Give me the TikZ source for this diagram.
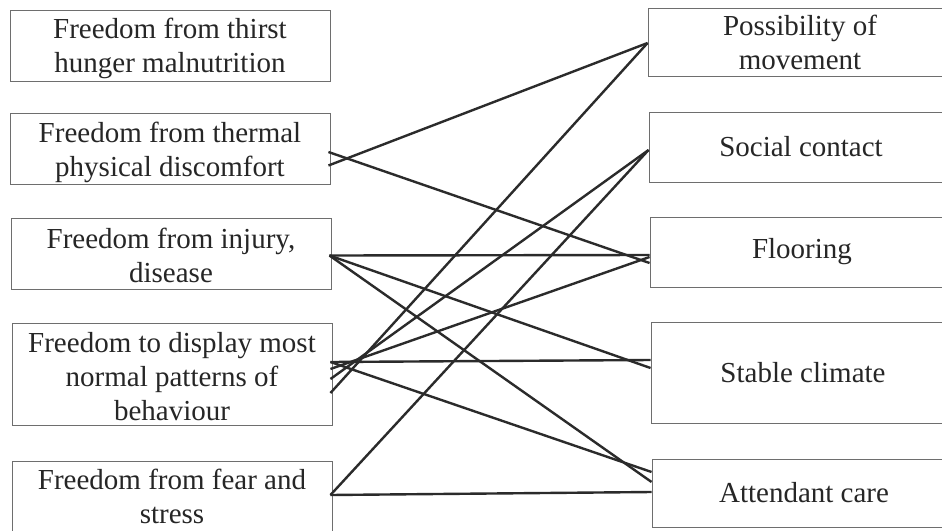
\documentclass[tikz,border=0pt]{standalone}
\usepackage{fontspec}
\setmainfont{Liberation Serif}
\usetikzlibrary{calc}
\definecolor{linec}{HTML}{2B2B2B}
\definecolor{boxc}{HTML}{6E6E6E}
\begin{document}
\begin{tikzpicture}[x=1pt,y=-1pt,
  box/.style={draw=boxc, line width=0.9pt, inner sep=0pt, align=center,
    font=\fontsize{29}{34}\selectfont, text=black!85},
  lbox/.style={box, minimum width=320pt},
  rbox/.style={box, minimum width=304pt},
  link/.style={draw=linec, line width=2.4pt}]
\useasboundingbox (0,0) rectangle (942,530);
\fill[white] (0,0) rectangle (942,530);
% left column
\node[lbox, minimum height=71pt, text depth=0pt] (L1) at (170,45.5) {Freedom from thirst\\hunger malnutrition};
\node[lbox, minimum height=71pt, text depth=0pt, text height=55pt] (L2) at (170,148.5) {Freedom from thermal\\physical discomfort};
\node[lbox, minimum height=71pt, text height=57.8pt] (L3) at (171,253.5) {Freedom from injury,\\disease};
\node[lbox, minimum height=102pt, text height=93.8pt] (L4) at (172,374) {Freedom to display most\\normal patterns of\\behaviour};
\node[lbox, minimum height=71pt] (L5) at (172,496.5) {Freedom from fear and\\stress};
% right column
\node[rbox, minimum height=68pt] (R1) at (800,42) {Possibility of\\movement};
\node[rbox, minimum height=70pt] (R2) at (801,147) {Social contact};
\node[rbox, minimum height=70pt] (R3) at (802,252) {Flooring};
\node[rbox, minimum height=101pt] (R4) at (803,372.5) {Stable climate};
\node[rbox, minimum height=68pt] (R5) at (804,493) {Attendant care};
% connectors
\draw[link] ($(L2.east)+(-2,3.5)$) -- ($(R3.west)+(0,11)$);
\draw[link] ($(L2.east)+(-2,17)$) -- ($(R1.west)+(0,1)$);
\draw[link] ($(L3.east)+(-2,2)$) -- ($(R3.west)+(0,3)$);
\draw[link] ($(L3.east)+(-2,2)$) -- ($(R4.west)+(0,-4.5)$);
\draw[link] ($(L3.east)+(-2,2)$) -- ($(R5.west)+(0,-11)$);
\draw[link] ($(L4.east)+(-2,-12)$) -- ($(R4.west)+(0,-12.5)$);
\draw[link] ($(L4.east)+(-2,-12)$) -- ($(R5.west)+(0,-21)$);
\draw[link] ($(L4.east)+(-2,-5)$) -- ($(R3.west)+(0,5)$);
\draw[link] ($(L4.east)+(-2,5)$) -- ($(R2.west)+(0,3)$);
\draw[link] ($(L4.east)+(-2,19)$) -- ($(R1.west)+(0,1)$);
\draw[link] ($(L5.east)+(-2,-1.5)$) -- ($(R2.west)+(0,3)$);
\draw[link] ($(L5.east)+(-2,-1.5)$) -- ($(R5.west)+(0,-1)$);
\end{tikzpicture}
\end{document}
